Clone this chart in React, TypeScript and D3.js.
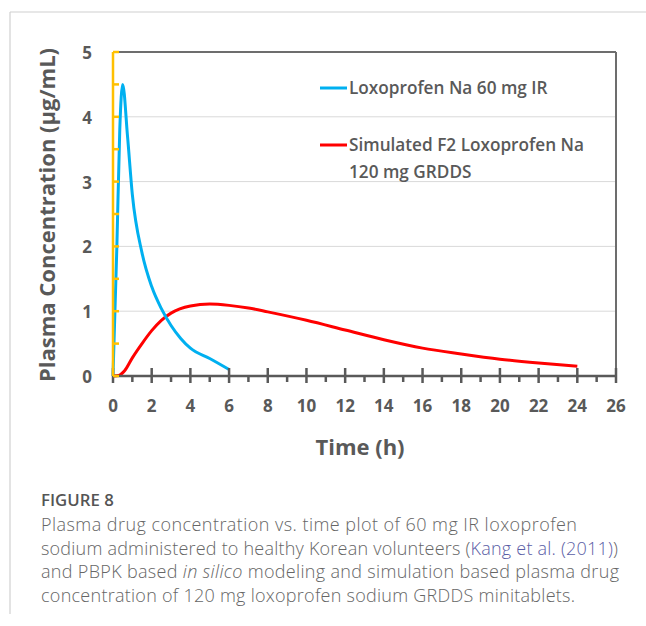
import React from "react";
import * as d3 from "d3";

// values
const irTime = [0, 0.2, 0.35, 0.5, 0.75, 1, 1.5, 2, 2.5, 3, 3.5, 4, 5, 6];
const irConc = [0, 2.0, 3.8, 4.5, 3.7, 2.8, 1.9, 1.38, 1.04, 0.78, 0.58, 0.43, 0.27, 0.1];
const simTime = [0, 0.3, 0.6, 1, 1.5, 2, 2.5, 3, 4, 5, 6, 7, 8, 10, 12, 14, 16, 18, 20, 22, 24];
const simConc = [0, 0.01, 0.08, 0.28, 0.5, 0.7, 0.86, 0.97, 1.08, 1.11, 1.09, 1.05, 0.99, 0.86, 0.71, 0.56, 0.43, 0.34, 0.26, 0.2, 0.15];
const xTicks = [0, 2, 4, 6, 8, 10, 12, 14, 16, 18, 20, 22, 24, 26];
const xMinor = [1, 3, 5, 7, 9, 11, 13, 15, 17, 19, 21, 23, 25];
const yTicks = [0, 1, 2, 3, 4, 5];
const yMinor = [0, 0.5, 1, 1.5, 2, 2.5, 3, 3.5, 4, 4.5, 5];
const legendItems = [
  { color: "#00B0F0", lines: ["Loxoprofen Na 60 mg IR"] },
  { color: "#FF0000", lines: ["Simulated F2 Loxoprofen Na", "120 mg GRDDS"] },
];
const captionLines = [
  [{ t: "Plasma drug concentration vs. time plot of 60 mg IR loxoprofen" }],
  [
    { t: "sodium administered to healthy Korean volunteers (" },
    { t: "Kang et al. (2011)", link: true },
    { t: ")" },
  ],
  [
    { t: "and PBPK based " },
    { t: "in silico", italic: true },
    { t: " modeling and simulation based plasma drug" },
  ],
  [{ t: "concentration of 120 mg loxoprofen sodium GRDDS minitablets." }],
];
// rendered width of each caption line in the figure
const captionWidths = [536, 577, 578, 534];

const W = 646;
const H = 626;
const x = d3.scaleLinear().domain([0, 26]).range([113, 616]);
const y = d3.scaleLinear().domain([0, 5]).range([376, 52]);
const axisGray = "#595959";
const chartFont = "'Open Sans', sans-serif";

const line = d3
  .line<[number, number]>()
  .x((d) => x(d[0]))
  .y((d) => y(d[1]))
  .curve(d3.curveMonotoneX);

export default function App() {
  const irPts = irTime.map((t, i) => [t, irConc[i]] as [number, number]);
  const simPts = simTime.map((t, i) => [t, simConc[i]] as [number, number]);

  return (
    <svg
      width={W}
      height={H}
      style={{ position: "absolute", left: 0, top: 0, display: "block", background: "#fff" }}
    >
      {/* frame */}
      <line x1={10} x2={W} y1={12} y2={12} stroke="#d0d0d0" strokeWidth={1.2} />
      <line x1={10} x2={10} y1={12} y2={614} stroke="#d0d0d0" strokeWidth={1.2} />

      {/* gridlines */}
      {yTicks.slice(1, 5).map((v) => (
        <line key={v} x1={x(0)} x2={x(26)} y1={y(v)} y2={y(v)} stroke="#d9d9d9" strokeWidth={1} />
      ))}
      <line x1={x(0)} x2={x(26)} y1={y(5)} y2={y(5)} stroke="#6d6d6d" strokeWidth={2} />
      <line x1={x(26)} x2={x(26)} y1={y(5)} y2={y(0)} stroke="#6d6d6d" strokeWidth={2} />

      {/* series */}
      <path d={line(simPts) ?? ""} fill="none" stroke="#FF0000" strokeWidth={3} />
      <path d={line(irPts) ?? ""} fill="none" stroke="#00B0F0" strokeWidth={3} />

      {/* x axis */}
      <line x1={x(0)} x2={x(26)} y1={y(0)} y2={y(0)} stroke={axisGray} strokeWidth={2.5} />
      {xTicks.map((v) => (
        <line key={v} x1={x(v)} x2={x(v)} y1={y(0) - 8} y2={y(0) + 7} stroke={axisGray} strokeWidth={2.5} />
      ))}
      {xMinor.map((v) => (
        <line key={v} x1={x(v)} x2={x(v)} y1={y(0)} y2={y(0) + 6} stroke={axisGray} strokeWidth={2.5} />
      ))}
      {xTicks.map((v) => (
        <text
          key={v}
          x={x(v)}
          y={412}
          textAnchor="middle"
          fontFamily={chartFont}
          fontWeight={700}
          fontSize={17}
          fill={axisGray}
        >
          {v}
        </text>
      ))}

      {/* y axis */}
      <line x1={x(0)} x2={x(0)} y1={y(0)} y2={y(5)} stroke="#FFC000" strokeWidth={2.5} />
      {yMinor.map((v) => (
        <line key={v} x1={x(0)} x2={x(0) + 6} y1={y(v)} y2={y(v)} stroke="#FFC000" strokeWidth={2.5} />
      ))}
      {yTicks.map((v) => (
        <text
          key={v}
          x={92}
          y={y(v) + 7}
          textAnchor="end"
          fontFamily={chartFont}
          fontWeight={700}
          fontSize={17}
          fill={axisGray}
        >
          {v}
        </text>
      ))}

      {/* axis titles */}
      <text
        transform={`translate(55,215) rotate(-90)`}
        textAnchor="middle"
        fontFamily={chartFont}
        fontWeight={700}
        fontSize={22}
        fill={axisGray}
      >
        Plasma Concentration (μg/mL)
      </text>
      <text x={360} y={455} textAnchor="middle" fontFamily={chartFont} fontWeight={700} fontSize={22} fill={axisGray}>
        Time (h)
      </text>

      {/* legend */}
      {legendItems.map((item, i) => {
        const cy = i === 0 ? 88 : 145;
        return (
          <g key={i}>
            <line x1={320} x2={347} y1={cy} y2={cy} stroke={item.color} strokeWidth={3} />
            {item.lines.map((l, j) => (
              <text
                key={j}
                x={349}
                y={cy + 5.5 + j * 27}
                fontFamily={chartFont}
                fontWeight={600}
                fontSize={17.2}
                fill={axisGray}
              >
                {l}
              </text>
            ))}
          </g>
        );
      })}

      {/* caption */}
      <text x={41} y={506} fontFamily={chartFont} fontWeight={600} fontSize={16.8} fill="#555">
        FIGURE 8
      </text>
      {captionLines.map((segs, i) => (
        <text
          key={i}
          x={41}
          y={531 + i * 23.7}
          fontFamily={chartFont}
          fontWeight={300}
          fontSize={18}
          textLength={captionWidths[i]}
          lengthAdjust="spacing"
          fill="#666"
        >
          {segs.map((s: any, j) => (
            <tspan key={j} fill={s.link ? "#5b5ea6" : undefined} fontStyle={s.italic ? "italic" : undefined}>
              {s.t}
            </tspan>
          ))}
        </text>
      ))}
    </svg>
  );
}
